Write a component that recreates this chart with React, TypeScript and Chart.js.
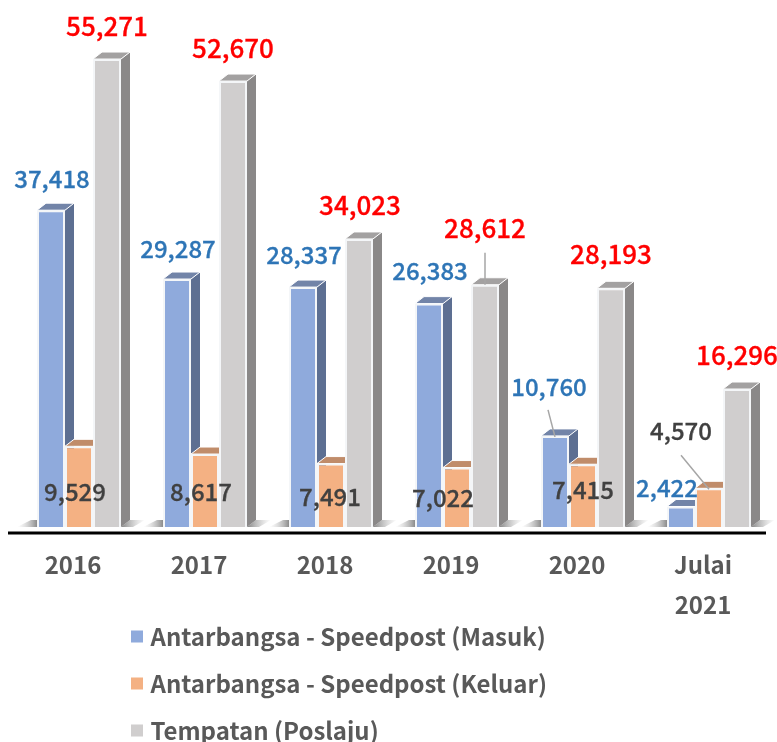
import React, { useEffect, useRef } from "react";
import { Chart, registerables } from "chart.js";

Chart.register(...registerables);

const categories = ["2016", "2017", "2018", "2019", "2020", ["Julai", "2021"]];
const seriesNames = [
  "Antarbangsa - Speedpost (Masuk)",
  "Antarbangsa - Speedpost (Keluar)",
  "Tempatan (Poslaju)",
];
const masuk = [37418, 29287, 28337, 26383, 10760, 2422];
const keluar = [9529, 8617, 7491, 7022, 7415, 4570];
const poslaju = [55271, 52670, 34023, 28612, 28193, 16296];

const FONT = '"Noto Sans CJK JP", "Noto Sans", sans-serif';
const front = ["#8faadc", "#f4b183", "#d0cece"];
const side = ["#5d6f92", "#a9795a", "#8a8888"];
const top = ["#7284a8", "#c08c6a", "#a3a1a1"];
const labelColor = ["#2e75b6", "#404040", "#ff0000"];
const labelSize = [24, 24, 26];
const DX = 9;
const DY = 7;

// label centre relative to the top-centre of each bar
const labelOffset: number[][][] = [
  [[1, -31], [1, -30], [1, -32], [1, -33], [-6, -49], [-14, -19]],
  [[-4, 46], [-4, 38], [-1, 33], [-14, 30], [0, 26], [-28, -57]],
  [[0, -33], [0, -33], [1, -34], [0, -57], [0, -34], [0, -34]],
];
// leader lines: [dataset, index, start dx, start dy, end dx, end dy] relative to the bar top-centre
const leaders = [
  [2, 3, 0, -32, 0, 0],
  [0, 4, -7, -26, 0, 1],
  [1, 5, -28, -33, 0, 1],
];

const threeD = {
  id: "threeD",
  afterLayout(chart: any) {
    const legend = chart.legend;
    if (legend) {
      const w = legend.width;
      legend.left = 112.5;
      legend.top = 601.5;
      legend.right = 112.5 + w;
      legend.bottom = 900;
    }
  },
  beforeDatasetsDraw(chart: any) {
    const ctx = chart.ctx;
    const base = chart.scales.y.getPixelForValue(0);
    ctx.save();
    // floor shadows
    const n = categories.length;
    const first = chart.getDatasetMeta(0).data;
    const last = chart.getDatasetMeta(2).data;
    for (let i = 0; i < n; i++) {
      const l = first[i].x - first[i].width / 2;
      const r = last[i].x + last[i].width / 2;
      const gr = ctx.createLinearGradient(r, 0, r + 24, 0);
      gr.addColorStop(0, "rgba(110,110,110,0.85)");
      gr.addColorStop(1, "rgba(170,170,170,0)");
      ctx.fillStyle = gr;
      ctx.beginPath();
      ctx.moveTo(r, base);
      ctx.lineTo(r + 9, base - 7);
      ctx.lineTo(r + 24, base - 7);
      ctx.lineTo(r + 12, base);
      ctx.closePath();
      ctx.fill();
      const gl = ctx.createLinearGradient(l - 20, 0, l, 0);
      gl.addColorStop(0, "rgba(200,200,200,0)");
      gl.addColorStop(1, "rgba(120,120,120,0.85)");
      ctx.fillStyle = gl;
      ctx.beginPath();
      ctx.moveTo(l - 20, base);
      ctx.lineTo(l - 6, base - 7);
      ctx.lineTo(l, base - 7);
      ctx.lineTo(l, base);
      ctx.closePath();
      ctx.fill();
    }
    // back faces
    for (let d = 0; d < 3; d++) {
      chart.getDatasetMeta(d).data.forEach((bar: any) => {
        const x0 = bar.x - bar.width / 2;
        const x1 = bar.x + bar.width / 2;
        const y = bar.y;
        ctx.fillStyle = side[d];
        ctx.beginPath();
        ctx.moveTo(x1, y);
        ctx.lineTo(x1 + DX, y - DY);
        ctx.lineTo(x1 + DX, base - DY);
        ctx.lineTo(x1, base);
        ctx.closePath();
        ctx.fill();
        ctx.fillStyle = top[d];
        ctx.beginPath();
        ctx.moveTo(x0, y);
        ctx.lineTo(x0 + DX, y - DY);
        ctx.lineTo(x1 + DX, y - DY);
        ctx.lineTo(x1, y);
        ctx.closePath();
        ctx.fill();
        ctx.strokeStyle = "#ffffff";
        ctx.lineWidth = 1;
        ctx.stroke();
      });
    }
    ctx.restore();
  },
  afterDatasetsDraw(chart: any) {
    const ctx = chart.ctx;
    const base = chart.scales.y.getPixelForValue(0);
    ctx.save();
    // axis line
    ctx.strokeStyle = "#000000";
    ctx.lineWidth = 3;
    ctx.beginPath();
    ctx.moveTo(8, base + 6);
    ctx.lineTo(766, base + 6);
    ctx.stroke();
    // leader lines
    ctx.strokeStyle = "#a6a6a6";
    ctx.lineWidth = 1.5;
    leaders.forEach(([d, i, sx, sy, ex, ey]) => {
      const bar = chart.getDatasetMeta(d).data[i];
      ctx.beginPath();
      ctx.moveTo(bar.x + sx, bar.y + sy);
      ctx.lineTo(bar.x + ex, bar.y + ey);
      ctx.stroke();
    });
    // value labels
    ctx.textAlign = "center";
    ctx.textBaseline = "middle";
    ctx.lineWidth = 0.3;
    for (let d = 0; d < 3; d++) {
      const meta = chart.getDatasetMeta(d);
      ctx.font = `500 ${labelSize[d]}px ${FONT}`;
      ctx.fillStyle = labelColor[d];
      ctx.strokeStyle = labelColor[d];
      meta.data.forEach((bar: any, i: number) => {
        const v = chart.data.datasets[d].data[i];
        const [ox, oy] = labelOffset[d][i];
        const text = v.toLocaleString("en-US");
        ctx.fillText(text, bar.x + ox, bar.y + oy);
        ctx.strokeText(text, bar.x + ox, bar.y + oy);
      });
    }
    ctx.restore();
  },
};

export default function App() {
  const ref = useRef<HTMLCanvasElement | null>(null);
  useEffect(() => {
    const chart = new Chart(ref.current!, {
      type: "bar",
      data: {
        labels: categories as any,
        datasets: [masuk, keluar, poslaju].map((data, d) => ({
          label: seriesNames[d],
          data,
          backgroundColor: front[d],
          borderColor: "#f4f6f8",
          borderWidth: 2,
          barPercentage: 1,
          categoryPercentage: 84 / 126,
        })),
      },
      options: {
        responsive: false,
        animation: false,
        layout: { padding: { left: 16, right: 5, top: 19, bottom: 0 } },
        plugins: {
          tooltip: { enabled: false },
          legend: {
            position: "chartArea" as any,
            align: "start",
            labels: {
              color: "#595959",
              font: { family: FONT, size: 24, weight: "bold" },
              boxWidth: 3,
              boxHeight: 3,
              padding: 23,
              generateLabels: (c: any) =>
                c.data.datasets.map((ds: any, i: number) => ({
                  text: ds.label,
                  fillStyle: front[i],
                  strokeStyle: front[i],
                  lineWidth: 9,
                  datasetIndex: i,
                  fontColor: "#595959",
                })),
            },
          },
        },
        scales: {
          x: {
            grid: { display: false, drawTicks: false },
            border: { display: false },
            afterFit(scale: any) {
              scale.height = 215;
            },
            ticks: {
              color: "#595959",
              font: { family: FONT, size: 24, weight: "bold", lineHeight: 40 / 24 },
              padding: 18,
              labelOffset: -6,
              maxRotation: 0,
              autoSkip: false,
            },
          },
          y: {
            display: false,
            min: 0,
            max: 60000,
          },
        },
      },
      plugins: [threeD],
    } as any);
    return () => chart.destroy();
  }, []);
  return (
    <div style={{ position: "absolute", left: 0, top: 0, width: 777, height: 742 }}>
      <canvas ref={ref} width={777} height={742} style={{ display: "block" }} />
    </div>
  );
}
